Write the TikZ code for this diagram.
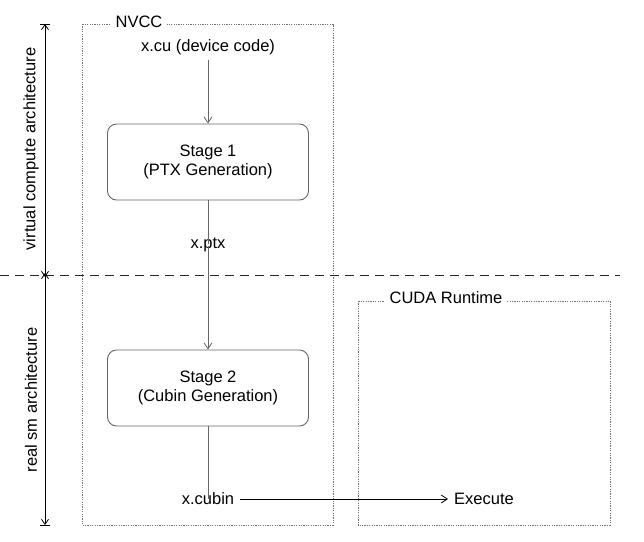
\documentclass[tikz,border=0pt]{standalone}
\usepackage{fontspec}
\setmainfont{Liberation Sans}
\usetikzlibrary{arrows.meta}
\begin{document}
\begin{tikzpicture}[x=1pt,y=-1pt,
  every node/.style={font=\fontsize{16.5}{18.5}\selectfont, inner sep=0pt},
  dotbox/.style={draw=black!55, line width=0.9pt, dash pattern=on 1.2pt off 1.2pt},
  boxlabel/.style={fill=white, inner xsep=5pt, inner ysep=2pt},
  stagebox/.style={draw=black!60, line width=0.9pt, rounded corners=9pt, minimum width=201pt, minimum height=76pt, align=center},
  flow/.style={draw=black!60, line width=0.9pt},
  tip/.style={-{Straight Barb[length=6pt,width=8pt,line width=0.8pt]}},
  dimline/.style={draw=black, line width=0.9pt}
]
\useasboundingbox (0,0) rectangle (644,541);
% boxes
\draw[dotbox] (82,24) rectangle (333,525);
\node[boxlabel] (nvcc) at (139,22) {NVCC};
\draw[dotbox] (358,301) rectangle (610,525);
\node[boxlabel] (cuda) at (446,298) {CUDA Runtime};
% dashed separator
\coordinate (dl) at (0,275);
\coordinate (dr) at (620,275);
\draw[black!85, line width=0.9pt, dash pattern=on 9pt off 6pt] (dl) -- (dr);
% nodes
\node (xcu) at (208,47) {x.cu (device code)};
\node[stagebox] (s1) at (208,162) {Stage 1\\(PTX Generation)};
\node (xptx) at (208,245) {x.ptx};
\node[stagebox] (s2) at (208,388) {Stage 2\\(Cubin Generation)};
\node (xcubin) at (208,499) {x.cubin};
\node (exec) at (484,499) {Execute};
% flows
\draw[flow,tip] (xcu.south) ++(0,5) coordinate (a1) -- (s1.north);
\draw[flow] (s1.south) -- ([yshift=-6pt]xptx.north);
\draw[flow,tip] ([yshift=6pt]xptx.south) -- (s2.north);
\draw[flow] (s2.south) -- ([yshift=-6pt]xcubin.north);
\draw[dimline,tip] ([xshift=6pt]xcubin.east) -- ([xshift=-6pt]exec.west);
% dimension arrows
\coordinate (v1) at (45,24);
\coordinate (v2) at (45,275);
\coordinate (v3) at (45,525);
\draw[dimline,{Straight Barb[length=5pt,width=7pt,line width=0.8pt]}-{Straight Barb[length=5pt,width=7pt,line width=0.8pt]}] (v1) -- ([yshift=-2pt]v2);
\draw[dimline,{Straight Barb[length=5pt,width=7pt,line width=0.8pt]}-{Straight Barb[length=5pt,width=7pt,line width=0.8pt]}] ([yshift=2pt]v2) -- (v3);
\draw[dimline] ([xshift=-5pt]v1) -- ([xshift=5pt]v1);
\draw[dimline] ([xshift=-5pt]v3) -- ([xshift=5pt]v3);
\node[rotate=90] (virt) at (31,149) {virtual compute architecture};
\node[rotate=90] (real) at (31,400) {real sm architecture};
\end{tikzpicture}
\end{document}
